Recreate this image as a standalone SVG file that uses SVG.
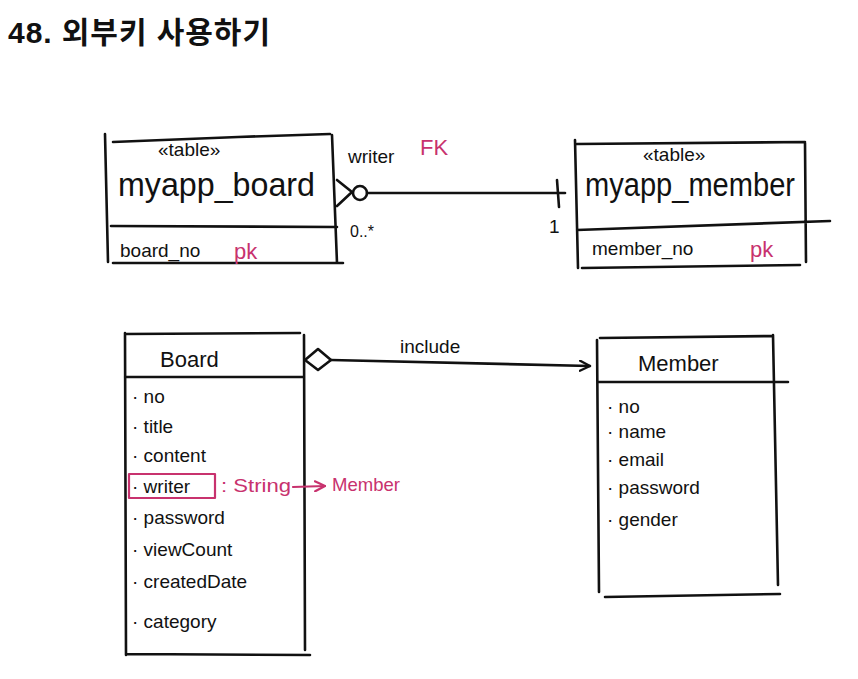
<svg xmlns="http://www.w3.org/2000/svg" width="858" height="679" viewBox="0 0 858 679">
<defs>
<style>
.ln{fill:none;stroke:#111;stroke-width:2.6;stroke-linecap:round;stroke-linejoin:round}
.pk{fill:none;stroke:#c8326e;stroke-width:2.2;stroke-linecap:round;stroke-linejoin:round}
.t{font-family:"Liberation Sans","Noto Sans CJK KR",sans-serif;fill:#111}
.big{font-size:33px}
.mid{font-size:22px}
.sm{font-size:19px}
.red{fill:#c8326e}
</style>
<marker id="arr" markerWidth="12" markerHeight="12" refX="11" refY="6" orient="auto" markerUnits="userSpaceOnUse">
<path d="M1,1 L11,6 L1,11" fill="none" stroke="#111" stroke-width="2.4" stroke-linecap="round"/>
</marker>
<marker id="arrp" markerWidth="12" markerHeight="12" refX="11" refY="6" orient="auto" markerUnits="userSpaceOnUse">
<path d="M1,1 L11,6 L1,11" fill="none" stroke="#c8326e" stroke-width="2.2" stroke-linecap="round"/>
</marker>
</defs>
<rect width="858" height="679" fill="#fff"/>
<text class="t" x="8" y="43" font-size="30" font-weight="bold" textLength="262" lengthAdjust="spacing">48.  외부키  사용하기</text>

<g id="myapp_board">
<path class="ln" d="M105,134 L108,262 M113,142 L238,137 L330,134 M332,135 L337,263 M111,226 L337,227 M113,263 L343,263"/>
<text class="t sm" x="158" y="156">«table»</text>
<text class="t big" x="118" y="196" textLength="197" lengthAdjust="spacingAndGlyphs">myapp_board</text>
<text class="t sm" x="120" y="257">board_no</text>
<text class="t mid red" x="234" y="259">pk</text>
</g>

<g id="myapp_member">
<path class="ln" d="M575,140 L578,268 M577,144 L805,142 M805,143 L806,262 M577,230 L830,221 M582,268 L800,265"/>
<text class="t sm" x="643" y="161">«table»</text>
<text class="t big" x="585" y="196" textLength="210" lengthAdjust="spacingAndGlyphs">myapp_member</text>
<text class="t sm" x="592" y="255">member_no</text>
<text class="t mid red" x="750" y="257">pk</text>
</g>

<g id="Board">
<path class="ln" d="M125,333 L126,655 M125,334 L300,333 M304,335 L305,650 M125,377 L304,377 M127,654 L310,655"/>
<text class="t mid" x="160" y="367">Board</text>
<text class="t sm" x="132" y="403">· no</text>
<text class="t sm" x="132" y="433">· title</text>
<text class="t sm" x="132" y="462">· content</text>
<text class="t sm" x="132" y="493">· writer</text>
<text class="t sm" x="132" y="524">· password</text>
<text class="t sm" x="132" y="556">· viewCount</text>
<text class="t sm" x="132" y="588">· createdDate</text>
<text class="t sm" x="132" y="628">· category</text>
<rect class="pk" x="129" y="474" width="86" height="24"/>
</g>

<g id="Member">
<path class="ln" d="M597,340 L599,592 M600,338 L772,336 M773,335 L778,585 M598,382 L788,382 M605,597 L780,594"/>
<text class="t mid" x="638" y="371">Member</text>
<text class="t sm" x="607" y="413">· no</text>
<text class="t sm" x="607" y="438">· name</text>
<text class="t sm" x="607" y="466">· email</text>
<text class="t sm" x="607" y="494">· password</text>
<text class="t sm" x="607" y="526">· gender</text>
</g>

<g id="connectors">
<path class="ln" d="M367,193 L565,193"/>
<path class="ln" d="M337,180 L352,192 L337,206"/>
<circle class="ln" cx="360" cy="193" r="7"/>
<path class="ln" d="M557,180 L559,207"/>
<text class="t sm" x="348" y="163">writer</text>
<text class="t mid red" x="420" y="155">FK</text>
<text class="t" x="350" y="237" font-size="16">0..*</text>
<text class="t sm" x="549" y="233">1</text>

<path class="ln" d="M305,360 L318,349 L331,360 L318,370 Z"/>
<path class="ln" d="M331,360 L590,366" marker-end="url(#arr)"/>
<text class="t sm" x="400" y="353">include</text>

<text class="t sm red" x="221" y="492" textLength="70" lengthAdjust="spacingAndGlyphs">: String</text>
<path class="pk" d="M293,487 L325,486" marker-end="url(#arrp)"/>
<text class="t sm red" x="332" y="491" textLength="68" lengthAdjust="spacingAndGlyphs">Member</text>
</g>
</svg>
